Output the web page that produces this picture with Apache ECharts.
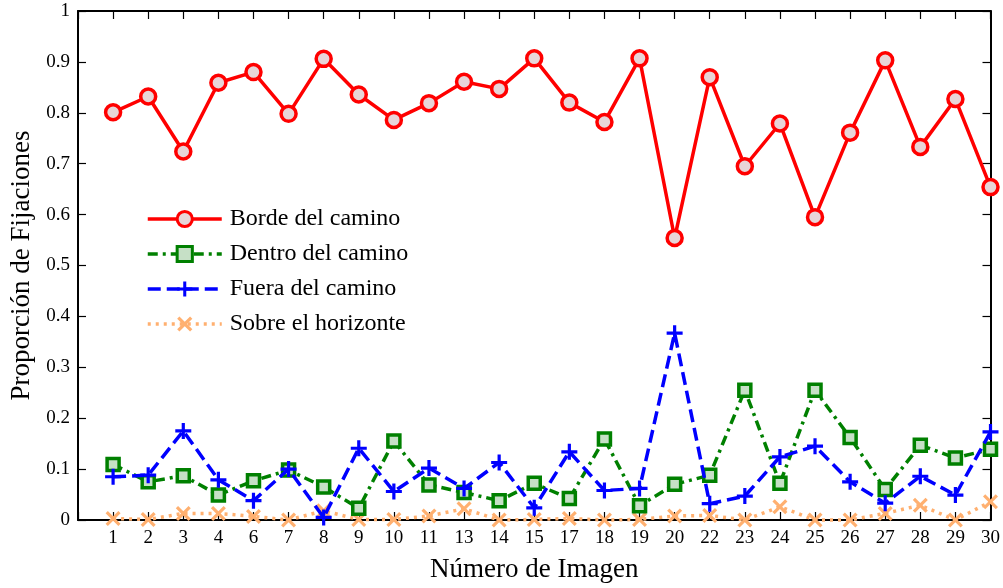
<!DOCTYPE html>
<html>
<head>
<meta charset="utf-8">
<script src="https://cdn.jsdelivr.net/npm/echarts@6/dist/echarts.min.js"></script>
<style>
html,body{margin:0;padding:0;background:#fff;}
#chart{width:1003px;height:588px;}
</style>
</head>
<body>
<div id="chart"></div>
<script>
var imagenes = ['1','2','3','4','6','7','8','9','10','11','13','14','15','17','18','19','20','22','23','24','25','26','27','28','29','30'];
var borde  = [0.801,0.832,0.724,0.859,0.880,0.798,0.906,0.836,0.786,0.819,0.861,0.847,0.907,0.820,0.782,0.907,0.554,0.870,0.695,0.779,0.595,0.761,0.903,0.733,0.827,0.654];
var dentro = [0.109,0.075,0.087,0.049,0.077,0.098,0.065,0.023,0.155,0.069,0.054,0.038,0.072,0.042,0.159,0.028,0.070,0.088,0.255,0.072,0.255,0.162,0.060,0.147,0.122,0.139];
var fuera  = [0.085,0.088,0.175,0.079,0.038,0.100,0.005,0.141,0.056,0.102,0.062,0.113,0.024,0.134,0.058,0.062,0.367,0.032,0.047,0.124,0.145,0.075,0.033,0.086,0.049,0.173];
var sobre  = [0.003,0.001,0.013,0.013,0.007,0.000,0.018,0.001,0.001,0.008,0.022,0.000,0.001,0.003,0.000,0.001,0.008,0.009,0.000,0.026,0.000,0.000,0.013,0.029,0.000,0.036];
var nombres = ['Borde del camino','Dentro del camino','Fuera del camino','Sobre el horizonte'];

function pts(arr){ return arr.map(function(v,i){ return [i+1, v]; }); }

var FONT = "'Liberation Serif','Times New Roman',serif";
var PLUS = 'path://M4,0 H6 V4 H10 V6 H6 V10 H4 V6 H0 V4 H4 Z';
var CROSS = 'path://M0,1.5 L1.5,0 L5,3.5 L8.5,0 L10,1.5 L6.5,5 L10,8.5 L8.5,10 L5,6.5 L1.5,10 L0,8.5 L3.5,5 Z';

var chart = echarts.init(document.getElementById('chart'), null, {renderer:'canvas'});
function aLine(){ return {show:true, onZero:false, lineStyle:{color:'#000', width:2}}; }
function aTick(){ return {show:true, inside:true, length:8, lineStyle:{color:'#000', width:1.2}}; }
var option = {
  animation:false,
  backgroundColor:'#fff',
  grid:{left:78, right:12, top:11, bottom:68, containLabel:false},
  legend:{
    left:141, top:202, orient:'vertical', itemWidth:74, itemHeight:19, itemGap:11,
    textStyle:{fontFamily:FONT, fontSize:24, color:'#000', padding:[0,0,0,3]},
    lineStyle:{width:3.5},
    itemStyle:{borderWidth:3},
    data:nombres
  },
  xAxis:[{
    type:'value', min:0, max:imagenes.length, interval:1,
    name:'Número de Imagen', nameLocation:'middle', nameGap:36,
    nameTextStyle:{fontFamily:FONT, fontSize:27, color:'#000'},
    axisLine:aLine(), axisTick:aTick(),
    axisLabel:{fontFamily:FONT, fontSize:19, color:'#000', margin:9,
      formatter:function(v){ return v>=1 && v<=imagenes.length ? imagenes[v-1] : ''; }},
    splitLine:{show:false}
  },{
    type:'value', position:'top', min:0, max:imagenes.length, interval:1,
    axisLine:aLine(), axisTick:aTick(),
    axisLabel:{show:false}, splitLine:{show:false}
  }],
  yAxis:[{
    type:'value', min:0, max:1, interval:0.1,
    name:'Proporción de Fijaciones', nameLocation:'middle', nameGap:43,
    nameTextStyle:{fontFamily:FONT, fontSize:27, color:'#000'},
    axisLine:aLine(), axisTick:aTick(),
    axisLabel:{fontFamily:FONT, fontSize:19, color:'#000', margin:8},
    splitLine:{show:false}
  },{
    type:'value', position:'right', min:0, max:1, interval:0.1,
    axisLine:aLine(), axisTick:aTick(),
    axisLabel:{show:false}, splitLine:{show:false}
  }],
  series:[
    {name:nombres[0], type:'line', data:pts(borde), clip:false, z:5,
     symbol:'circle', symbolSize:15,
     lineStyle:{color:'#ff0000', width:3.5, type:'solid'},
     itemStyle:{color:'#e8d5d8', borderColor:'#ff0000', borderWidth:3.5}},
    {name:nombres[1], type:'line', data:pts(dentro), clip:false, z:3,
     symbol:'rect', symbolSize:12,
     lineStyle:{color:'#008000', width:3.5, type:[10,5,3,5]},
     itemStyle:{color:'#c6e0c6', borderColor:'#008000', borderWidth:3.5}},
    {name:nombres[2], type:'line', data:pts(fuera), clip:false, z:4,
     symbol:PLUS, symbolSize:16,
     lineStyle:{color:'#0000ff', width:3.5, type:[13,6]},
     itemStyle:{color:'#0000ff', borderWidth:0}},
    {name:nombres[3], type:'line', data:pts(sobre), clip:false, z:2,
     symbol:CROSS, symbolSize:15,
     lineStyle:{color:'#ffb070', width:3.5, type:[3,5]},
     itemStyle:{color:'#ffb070', borderWidth:0}}
  ]
};
chart.setOption(option);
</script>
</body>
</html>
